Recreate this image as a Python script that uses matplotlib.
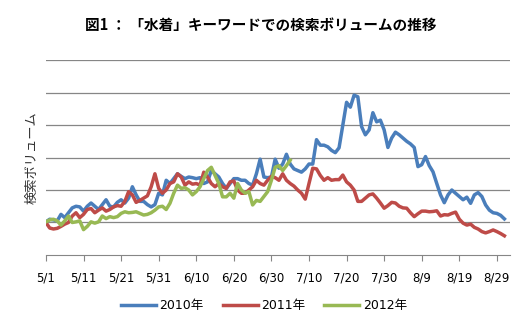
import matplotlib
matplotlib.use("Agg")
import matplotlib.pyplot as plt

plt.rcParams['font.family'] = ['DejaVu Sans', 'Noto Sans CJK JP']

# day index 0 = 5/1 ... 122 = 8/31, values in arbitrary units (grid step = 1)
vol_2010 = [
    1.02, 1.10, 1.08, 1.05, 1.25, 1.15, 1.30, 1.45, 1.50, 1.48,
    1.35, 1.50, 1.60, 1.50, 1.40, 1.55, 1.70, 1.50, 1.48, 1.62,
    1.70, 1.60, 1.75, 2.10, 1.85, 1.65, 1.65, 1.55, 1.48, 1.55,
    1.90, 1.85, 2.30, 2.20, 2.35, 2.50, 2.42, 2.35, 2.40, 2.38,
    2.35, 2.38, 2.20, 2.25, 2.60, 2.50, 2.40, 2.20, 2.05, 2.20,
    2.35, 2.35, 2.30, 2.30, 2.20, 2.15, 2.50, 2.95, 2.40, 2.38,
    2.40, 2.95, 2.67, 2.80, 3.10, 2.80, 2.65, 2.60, 2.55, 2.65,
    2.80, 2.80, 3.55, 3.38, 3.38, 3.33, 3.22, 3.15, 3.30, 4.00,
    4.70, 4.55, 4.92, 4.87, 3.95, 3.70, 3.85, 4.38, 4.10, 4.15,
    3.85, 3.31, 3.60, 3.78, 3.70, 3.60, 3.50, 3.42, 3.31, 2.72,
    2.78, 3.03, 2.75, 2.56, 2.20, 1.85, 1.61, 1.85, 2.00, 1.90,
    1.80, 1.70, 1.78, 1.59, 1.85, 1.92, 1.80, 1.54, 1.38, 1.30,
    1.28, 1.22, 1.11,
]
vol_2011 = [
    1.00, 0.83, 0.80, 0.82, 0.88, 0.95, 1.00, 1.20, 1.30, 1.15,
    1.25, 1.40, 1.43, 1.30, 1.38, 1.45, 1.35, 1.40, 1.48, 1.52,
    1.50, 1.65, 1.95, 1.85, 1.62, 1.68, 1.75, 1.82, 2.10, 2.50,
    2.05, 1.90, 2.00, 2.20, 2.25, 2.50, 2.40, 2.15, 2.25, 2.18,
    2.20, 2.15, 2.55, 2.40, 2.20, 2.10, 2.20, 2.10, 2.05, 2.25,
    2.28, 2.00, 1.90, 1.90, 2.00, 2.10, 2.30, 2.20, 2.15, 2.30,
    2.42, 2.38, 2.30, 2.50, 2.30, 2.20, 2.12, 2.00, 1.90, 1.72,
    2.20, 2.67, 2.65, 2.45, 2.30, 2.38, 2.30, 2.32, 2.32, 2.46,
    2.25, 2.15, 2.00, 1.65, 1.65, 1.75, 1.85, 1.88, 1.75, 1.60,
    1.44, 1.52, 1.62, 1.60, 1.50, 1.45, 1.44, 1.30, 1.18, 1.27,
    1.35, 1.35, 1.33, 1.34, 1.36, 1.20, 1.24, 1.23, 1.28, 1.32,
    1.10, 0.98, 0.92, 0.95, 0.85, 0.80, 0.72, 0.68, 0.72, 0.77,
    0.72, 0.66, 0.59,
]
vol_2012 = [
    1.02, 1.08, 1.10, 1.05, 0.92, 1.05, 1.20, 1.00, 1.02, 1.05,
    0.78, 0.88, 1.02, 0.98, 1.02, 1.20, 1.12, 1.18, 1.15, 1.18,
    1.28, 1.33, 1.30, 1.31, 1.33, 1.28, 1.23, 1.25, 1.30, 1.38,
    1.48, 1.50, 1.40, 1.59, 1.90, 2.15, 2.05, 2.07, 2.00, 1.85,
    1.95, 2.10, 2.35, 2.60, 2.70, 2.45, 2.20, 1.79, 1.79, 1.90,
    1.75, 2.20, 2.00, 1.90, 1.95, 1.54, 1.68, 1.65, 1.80, 1.95,
    2.30, 2.70, 2.75, 2.60, 2.75, 2.92,
]
tick_days = [0, 10, 20, 30, 40, 50, 60, 70, 80, 90, 100, 110, 120]
tick_labels = ['5/1', '5/11', '5/21', '5/31', '6/10', '6/20', '6/30',
               '7/10', '7/20', '7/30', '8/9', '8/19', '8/29']

fig = plt.figure(figsize=(5.28, 3.32), dpi=100)
ax = fig.add_axes([0.087, 0.232, 0.879, 0.587])

ax.plot(range(len(vol_2010)), vol_2010, color='#4A7EBB', lw=2.5, label='2010年')
ax.plot(range(len(vol_2011)), vol_2011, color='#BE4B48', lw=2.5, label='2011年')
ax.plot(range(len(vol_2012)), vol_2012, color='#98B954', lw=2.5, label='2012年')

ax.set_xlim(0, 123.5)
ax.set_ylim(0, 6)
ax.set_yticks([1, 2, 3, 4, 5, 6])
ax.set_yticklabels([])
ax.tick_params(axis='y', length=0)
ax.grid(axis='y', color='#868686', lw=0.9)
ax.set_axisbelow(True)
ax.set_xticks(tick_days)
ax.set_xticklabels(tick_labels, fontsize=8.5)
ax.tick_params(axis='x', length=4, color='#868686', pad=8)
for s in ['left', 'right', 'top']:
    ax.spines[s].set_visible(False)
ax.spines['bottom'].set_color('#868686')

ax.set_ylabel('検索ボリューム', fontsize=9.5, labelpad=2, color='#333333',
              family=['Noto Sans CJK JP', 'DejaVu Sans'])
fig.text(0.494, 0.925, '図1 ： 「水着」キーワードでの検索ボリュームの推移',
         ha='center', va='center', fontsize=10.5, fontweight='bold',
         family=['Noto Sans CJK JP', 'DejaVu Sans'])

fig.legend(loc='center', bbox_to_anchor=(0.5, 0.08), ncol=3, frameon=False,
           fontsize=9, handlelength=2.8, columnspacing=1.5, handletextpad=0.3)

fig.savefig('out.png', dpi=100, facecolor='white')
